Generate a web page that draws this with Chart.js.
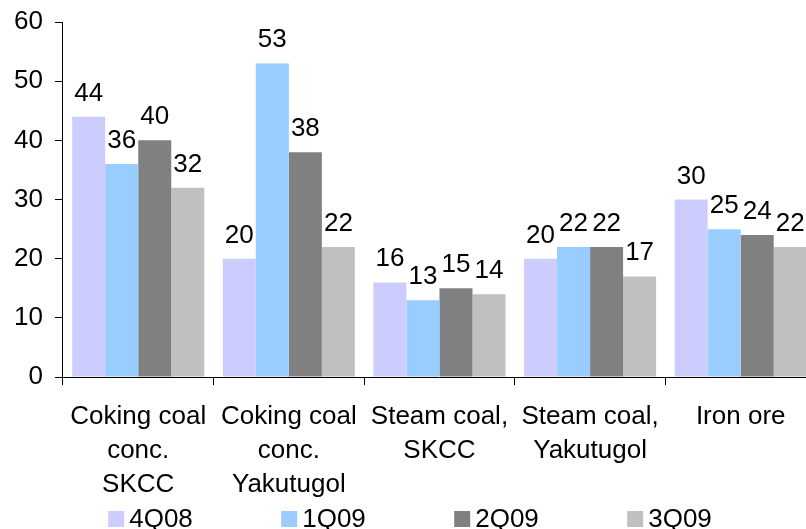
<!DOCTYPE html>
<html>
<head>
<meta charset="utf-8">
<script src="https://cdn.jsdelivr.net/npm/chart.js@4/dist/chart.umd.min.js"></script>
<style>
html,body{margin:0;padding:0;background:#fff;overflow:hidden;}
#wrap{width:820px;height:529px;}
</style>
</head>
<body>
<div id="wrap"><canvas id="c" width="820" height="529"></canvas></div>
<script>
const categories = [
  ["Coking coal", "conc.", "SKCC"],
  ["Coking coal", "conc.", "Yakutugol"],
  ["Steam coal,", "SKCC"],
  ["Steam coal,", "Yakutugol"],
  "Iron ore"
];
const seriesNames = ["4Q08", "1Q09", "2Q09", "3Q09"];
const values4Q08 = [44, 20, 16, 20, 30];
const values1Q09 = [36, 53, 13, 22, 25];
const values2Q09 = [40, 38, 15, 22, 24];
const values3Q09 = [32, 22, 14, 17, 22];
const yTicks = [0, 10, 20, 30, 40, 50, 60];

const colors = ["#CCCCFF", "#99CCFF", "#808080", "#C0C0C0"];
const FONT = "'Liberation Sans', Arial, sans-serif";
const FS = 26;

const valueLabels = {
  id: "valueLabels",
  afterDatasetsDraw(chart) {
    const ctx = chart.ctx;
    ctx.save();
    ctx.font = FS + "px " + FONT;
    ctx.fillStyle = "#000";
    ctx.textAlign = "center";
    ctx.textBaseline = "alphabetic";
    chart.data.datasets.forEach((ds, i) => {
      const meta = chart.getDatasetMeta(i);
      meta.data.forEach((el, j) => {
        ctx.fillText(String(ds.data[j]), el.x, el.y - 16);
      });
    });
    ctx.restore();
  }
};

const customLegend = {
  id: "customLegend",
  afterDraw(chart) {
    const ctx = chart.ctx;
    ctx.save();
    ctx.font = FS + "px " + FONT;
    ctx.textBaseline = "middle";
    ctx.textAlign = "left";
    const pitch = 173;
    const box = 16;
    const n = chart.data.datasets.length;
    const lastW = box + 5 + ctx.measureText(chart.data.datasets[n - 1].label).width;
    const total = pitch * (n - 1) + lastW;
    let x = chart.width / 2 - total / 2;
    const y = 519;
    chart.data.datasets.forEach((ds) => {
      ctx.fillStyle = ds.backgroundColor;
      ctx.fillRect(x, y - box / 2, box, box);
      ctx.fillStyle = "#000";
      ctx.fillText(ds.label, x + box + 5, y + 1);
      x += pitch;
    });
    ctx.restore();
  }
};

const allValues = [values4Q08, values1Q09, values2Q09, values3Q09];

new Chart(document.getElementById("c"), {
  type: "bar",
  data: {
    labels: categories,
    datasets: seriesNames.map((name, i) => ({
      label: name,
      data: allValues[i],
      backgroundColor: colors[i],
      borderWidth: 0,
      categoryPercentage: 0.877,
      barPercentage: 1.0
    }))
  },
  options: {
    responsive: false,
    animation: false,
    layout: { padding: { top: 22, left: 2, right: 4, bottom: 12.5 } },
    plugins: {
      legend: { display: false },
      tooltip: { enabled: false }
    },
    scales: {
      x: {
        grid: { display: true, drawOnChartArea: false, drawTicks: true, tickLength: 8, color: "#000", offset: true },
        border: { display: true, color: "#000", width: 1 },
        ticks: {
          color: "#000",
          font: { family: FONT, size: FS, lineHeight: 1.3 },
          maxRotation: 0,
          autoSkip: false,
          padding: 15
        }
      },
      y: {
        min: 0,
        max: 60,
        afterBuildTicks(scale) { scale.ticks = yTicks.map(v => ({ value: v })); },
        grid: { display: true, drawOnChartArea: false, drawTicks: true, tickLength: 8, color: "#000" },
        border: { display: true, color: "#000", width: 1 },
        ticks: {
          color: "#000",
          font: { family: FONT, size: FS, lineHeight: 0.5 },
          padding: 12
        }
      }
    }
  },
  plugins: [valueLabels, customLegend]
});
</script>
</body>
</html>
